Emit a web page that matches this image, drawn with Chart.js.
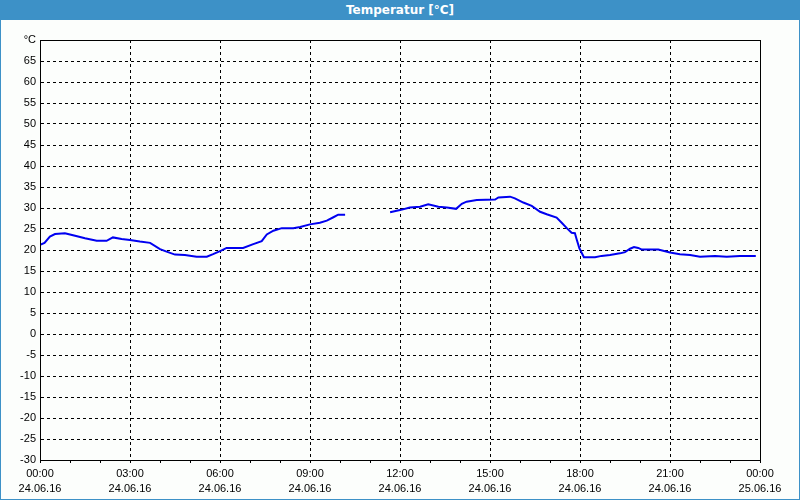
<!DOCTYPE html>
<html>
<head>
<meta charset="utf-8">
<script src="https://cdn.jsdelivr.net/npm/chart.js@4.4.1/dist/chart.umd.min.js"></script>
<style>
    html, body { margin: 0; padding: 0; background: #fcfefc; }
    #wrap { position: relative; width: 800px; height: 500px; overflow: hidden; }
    #chart { position: absolute; left: 0; top: 0; }
    #frame {
        position: absolute; left: 0; top: 0; width: 798px; height: 499px;
        border-left: 1px solid #3d91c7; border-right: 1px solid #3d91c7; border-bottom: 1px solid #3d91c7;
        pointer-events: none;
    }
    #title {
        position: absolute; left: 0; top: 0; width: 800px; height: 20px;
        background: #3d91c7; color: #fff; text-align: center;
        font: bold 12px "DejaVu Sans", sans-serif; line-height: 20px;
    }
</style>
</head>
<body>
<div id="wrap">
    <canvas id="chart" width="800" height="500"></canvas>
    <div id="frame"></div>
    <div id="title">Temperatur [°C]</div>
</div>
<script>
// Stunden ab 24.06.16 00:00
const hours = [
    0, 0.15, 0.33, 0.5, 0.83, 1.17, 1.5, 1.89, 2.22, 2.43, 2.72, 3.0, 3.33, 3.67, 4.0, 4.22,
    4.5, 4.83, 5.22, 5.56, 5.77, 6.02, 6.22, 6.77, 7.11, 7.39, 7.56, 7.78, 8.06, 8.44, 8.67,
    9.0, 9.33, 9.56, 9.78, 9.94, 10.17,
    10.9,
    11.67, 12.0, 12.33, 12.67, 12.94, 13.28, 13.56, 13.87, 14.06, 14.22, 14.56, 15.17, 15.28,
    15.67, 15.83, 16.11, 16.39, 16.67, 16.89, 17.22, 17.39, 17.56, 17.72, 17.83, 17.89, 17.98,
    18.13, 18.5, 18.72, 19.0, 19.33, 19.5, 19.67, 19.8, 19.94, 20.06, 20.61, 21.0, 21.33,
    21.67, 22.0, 22.5, 22.89, 23.33, 23.86
];
const temps = [
    21.2, 21.7, 23.2, 23.8, 24.0, 23.4, 22.8, 22.2, 22.2, 23.0, 22.6, 22.4, 22.0, 21.7, 20.2, 19.6,
    18.9, 18.8, 18.4, 18.4, 19.0, 19.8, 20.5, 20.5, 21.4, 22.1, 23.7, 24.6, 25.2, 25.2, 25.5,
    26.1, 26.5, 27.0, 27.8, 28.4, 28.4,
    null,
    29.0, 29.5, 30.1, 30.3, 30.9, 30.3, 30.1, 29.8, 31.0, 31.5, 31.9, 32.0, 32.5,
    32.7, 32.3, 31.3, 30.5, 29.1, 28.5, 27.7, 26.5, 25.2, 24.1, 24.0, 22.5, 20.4,
    18.3, 18.3, 18.6, 18.8, 19.2, 19.5, 20.3, 20.7, 20.5, 20.1, 20.1, 19.4, 19.0,
    18.8, 18.4, 18.6, 18.4, 18.6, 18.6
];

const yMin = -30;
const yMax = 70;
const dateLabels = ['24.06.16', '25.06.16'];

const points = hours.map((h, i) => ({ x: h, y: temps[i] }));

// Rahmen um den Plotbereich
const frameBox = {
    id: 'frameBox',
    afterDraw(chart) {
        const { ctx, chartArea: a } = chart;
        ctx.save();
        ctx.strokeStyle = '#000';
        ctx.lineWidth = 1;
        ctx.strokeRect(Math.round(a.left) + 0.5, Math.round(a.top) + 0.5,
            Math.round(a.right - a.left), Math.round(a.bottom - a.top));
        ctx.restore();
    }
};

const font = { family: '"Liberation Sans", sans-serif', size: 11, lineHeight: 1.4 };

new Chart(document.getElementById('chart'), {
    type: 'line',
    data: {
        datasets: [{
            data: points,
            borderColor: '#0000f0',
            borderWidth: 2,
            pointRadius: 0,
            tension: 0,
            spanGaps: false
        }]
    },
    options: {
        responsive: false,
        animation: false,
        layout: { padding: { top: 40, right: 40, left: 0, bottom: 0 } },
        plugins: { legend: { display: false }, tooltip: { enabled: false } },
        scales: {
            x: {
                type: 'linear',
                min: 0,
                max: 24,
                afterFit: s => { s.height = 40; },
                ticks: {
                    stepSize: 1,
                    autoSkip: false,
                    maxRotation: 0,
                    padding: 3,
                    color: '#000',
                    font: font,
                    callback: function(value) {
                        if (value % 3 !== 0) return '';
                        const h = value % 24;
                        const t = String(h).padStart(2, '0') + ':00';
                        return [t, value >= 24 ? dateLabels[1] : dateLabels[0]];
                    }
                },
                grid: {
                    color: c => (c.tick && c.tick.value % 3 === 0) ? '#000' : 'rgba(0,0,0,0)',
                    tickColor: '#000',
                    tickLength: 3,
                    lineWidth: 1
                },
                border: { display: true, color: '#000', dash: [3, 3] }
            },
            y: {
                min: yMin,
                max: yMax,
                afterFit: s => { s.width = 40; },
                ticks: {
                    stepSize: 5,
                    padding: 4,
                    color: '#000',
                    font: font,
                    callback: v => v === yMax ? '°C' : v
                },
                grid: { color: '#000', drawTicks: false, lineWidth: 1 },
                border: { display: true, color: '#000', dash: [3, 3] }
            }
        }
    },
    plugins: [frameBox]
});
</script>
</body>
</html>
